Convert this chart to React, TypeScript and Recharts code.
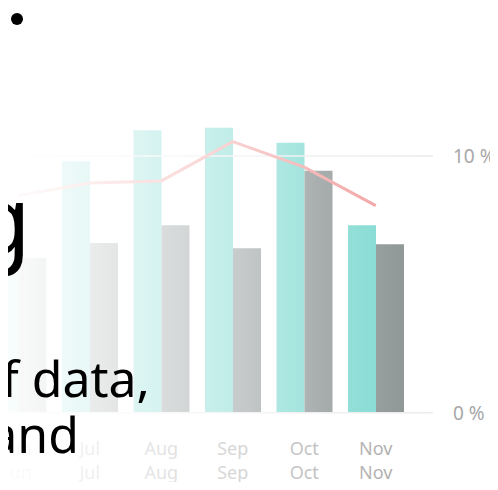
import React from "react";
import { ComposedChart, Bar, Line, XAxis, YAxis, ReferenceLine } from "recharts";

const months = ["Jun", "Jul", "Aug", "Sep", "Oct", "Nov"];
const thisYear = [6.0, 9.8, 11.0, 11.1, 10.52, 7.3];
const lastYear = [6.03, 6.61, 7.3, 6.41, 9.43, 6.56];
const trend = [8.46, 8.95, 9.03, 10.56, 9.57, 8.07];
const yTicks = [0, 10];

const data = months.map((m, i) => ({
  month: m,
  a: thisYear[i],
  b: lastYear[i],
  c: trend[i],
}));

const FONT = "'Noto Sans', 'DejaVu Sans', sans-serif";

const XTick = (props: any) => {
  const { x, y, payload } = props;
  return (
    <g>
      <text x={x} y={y + 42} textAnchor="middle" fill="#a8a8a8" fontSize={18} fontFamily={FONT}>
        {payload.value}
      </text>
      <text x={x} y={y + 66} textAnchor="middle" fill="#a8a8a8" fontSize={18} fontFamily={FONT}>
        {payload.value}
      </text>
    </g>
  );
};

const YTick = (props: any) => {
  const { x, y, payload } = props;
  return (
    <text x={x + 20} y={y + 7} textAnchor="start" fill="#a8a8a8" fontSize={19} fontFamily={FONT}>
      {`${payload.value} %`}
    </text>
  );
};

export default function App() {
  return (
    <div
      style={{
        position: "relative",
        width: 498,
        height: 490,
        margin: -8,
        overflow: "hidden",
        background: "#ffffff",
      }}
    >
      <div style={{ position: "absolute", left: -40, top: 0 }}>
        <ComposedChart
          width={538}
          height={490}
          data={data}
          margin={{ top: 27.7, right: 0, left: 22.5, bottom: 0 }}
          barGap={0}
          barSize={28}
        >
          <XAxis
            dataKey="month"
            axisLine={false}
            tickLine={false}
            tickSize={0}
            tickMargin={0}
            height={77.3}
            padding={{ left: 0, right: 21.5 }}
            tick={<XTick />}
            interval={0}
          />
          <YAxis
            orientation="right"
            domain={[0, 15]}
            ticks={yTicks}
            width={65}
            axisLine={false}
            tickLine={false}
            tickSize={0}
            tickMargin={0}
            tick={<YTick />}
            allowDataOverflow
          />
          {yTicks.map((t) => (
            <ReferenceLine key={t} y={t} stroke="#ebebeb" strokeWidth={1.5} />
          ))}
          <Bar dataKey="a" fill="#79d8cf" isAnimationActive={false} />
          <Bar dataKey="b" fill="#899191" isAnimationActive={false} />
          <Line
            type="linear"
            dataKey="c"
            stroke="#f29c9c"
            strokeWidth={3}
            dot={false}
            isAnimationActive={false}
          />
        </ComposedChart>
      </div>
      <div
        style={{
          position: "absolute",
          left: 0,
          top: 0,
          width: 498,
          height: 490,
          background:
            "linear-gradient(to right, rgba(255,255,255,0.96) 0px, rgba(255,255,255,0.93) 33px, rgba(255,255,255,0.8) 104px, rgba(255,255,255,0.66) 175px, rgba(255,255,255,0.5) 247px, rgba(255,255,255,0.27) 319px, rgba(255,255,255,0.09) 390px, rgba(255,255,255,0) 432px)",
        }}
      />
      <svg
        width={498}
        height={490}
        style={{ position: "absolute", left: 0, top: 0 }}
      >
        <circle cx={17} cy={19} r={6} fill="#000" />
        <text x={31} y={254} textAnchor="end" fontSize={95} fontFamily={FONT} fill="#000">
          g
        </text>
        <text x={150} y={397} textAnchor="end" fontSize={50} fontFamily={FONT} fill="#000">
          of data,
        </text>
        <text x={79} y={453} textAnchor="end" fontSize={50} fontFamily={FONT} fill="#000">
          and
        </text>
      </svg>
    </div>
  );
}
